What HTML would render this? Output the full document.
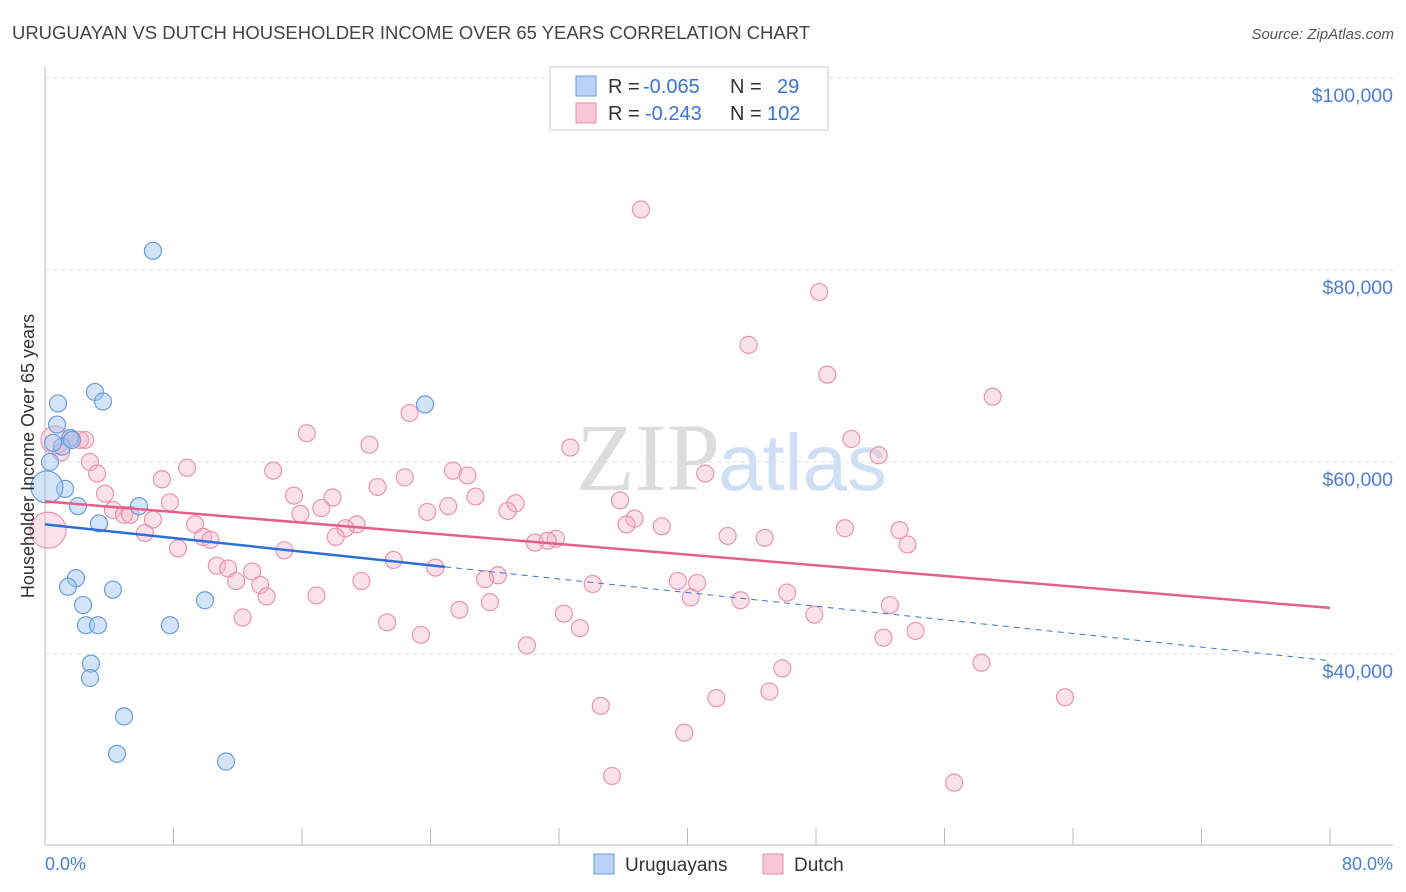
<!DOCTYPE html>
<html><head><meta charset="utf-8"><style>
body{margin:0;background:#fff;font-family:"Liberation Sans",sans-serif;}
svg{display:block}
</style></head><body>
<svg id="c" width="1406" height="892">
<text x="12" y="39" font-size="18" fill="#444" textLength="798" lengthAdjust="spacingAndGlyphs">URUGUAYAN VS DUTCH HOUSEHOLDER INCOME OVER 65 YEARS CORRELATION CHART</text>
<text x="1394" y="39" font-size="15" fill="#555" font-style="italic" text-anchor="end">Source: ZipAtlas.com</text>
<text x="720" y="490" font-size="96" fill="#ddd" text-anchor="end" font-family="Liberation Serif,serif">ZIP</text>
<text x="718" y="490" font-size="80" fill="#cfe0f5">atlas</text>
<g id="grid"></g><g id="marks"></g>
<text transform="translate(34,456) rotate(-90)" font-size="18" fill="#333" text-anchor="middle">Householder Income Over 65 years</text>
<text x="45" y="870" font-size="18" fill="#4a7fd8">0.0%</text>
<text x="1393" y="870" font-size="18" fill="#4a7fd8" text-anchor="end">80.0%</text>
<g>
<rect x="550" y="67" width="278" height="63" fill="#fff" stroke="#ccc"/>
<rect x="576" y="76" width="20" height="20" fill="#b9d2f5" stroke="#6a9de0"/>
<rect x="576" y="103" width="20" height="20" fill="#f8c6d5" stroke="#e890ab"/>
<text x="608" y="93" font-size="20" fill="#333">R = <tspan x="643" fill="#3b73d4">-0.065</tspan><tspan x="730">N = </tspan><tspan x="777" fill="#3b73d4">29</tspan></text>
<text x="608" y="120" font-size="20" fill="#333">R = <tspan x="645" fill="#3b73d4">-0.243</tspan><tspan x="730">N = </tspan><tspan x="767" fill="#3b73d4">102</tspan></text>
</g>
<g>
<rect x="594" y="854" width="20" height="20" fill="#b9d2f5" stroke="#6a9de0"/>
<text x="625" y="871" font-size="19" fill="#333">Uruguayans</text>
<rect x="763" y="854" width="20" height="20" fill="#f8c6d5" stroke="#e890ab"/>
<text x="794" y="871" font-size="19" fill="#333">Dutch</text>
</g>
</svg>
<script>
const yTicks=[40000,60000,80000,100000];
const yTickLabels=["$40,000","$60,000","$80,000","$100,000"];
const xTicks=[0,8,16,24,32,40,48,56,64,72,80];
const blueX=[6.72,0.81,3.11,3.61,23.66,0.75,1.56,1.06,0.31,1.25,0.12,2.05,5.85,3.36,1.93,1.43,4.23,2.37,9.96,2.55,3.30,7.78,2.86,2.80,4.92,4.48,11.27,1.68,0.5];
const blueY=[82.0,66.1,67.3,66.3,66.0,63.9,62.5,61.6,60.0,57.2,57.4,55.4,55.4,53.6,47.9,47.0,46.7,45.1,45.6,43.0,43.0,43.0,39.0,37.5,33.5,29.6,28.8,62.3,62.0];
const blueR=[8.5,8.5,8.5,8.5,8.5,8.5,8.5,8.5,8.5,8.5,16,8.5,8.5,8.5,8.5,8.5,8.5,8.5,8.5,8.5,8.5,8.5,8.5,8.5,8.5,8.5,8.5,8.5,8.5];
const pinkX=[37.1,48.2,43.8,48.7,59.0,22.7,16.3,50.2,20.2,32.7,51.9,2.18,0.62,2.80,3.24,8.84,14.2,25.4,26.3,22.4,41.1,7.28,20.7,15.5,17.9,26.8,3.74,7.78,35.8,29.3,17.2,25.1,28.8,23.8,15.9,4.23,4.92,5.30,6.72,36.7,36.2,38.4,9.34,19.4,49.8,53.2,18.7,6.22,9.84,42.5,44.8,10.3,18.1,31.8,31.3,30.5,53.7,8.28,14.9,21.7,10.7,11.4,12.9,24.3,28.2,27.4,11.9,19.7,39.4,40.6,13.4,34.1,13.8,16.9,40.2,46.2,43.3,27.7,25.8,32.3,52.6,47.9,12.3,21.3,33.3,54.2,23.4,52.2,30.0,45.9,58.3,45.1,41.8,63.5,34.6,39.8,35.3,56.6,0.19,1.6,2.5,1.0];
const pinkY=[86.3,77.7,72.2,69.1,66.8,65.1,63.0,62.4,61.8,61.5,60.7,62.3,62.3,60.0,58.8,59.4,59.1,59.1,58.6,58.4,58.8,58.2,57.4,56.5,56.3,56.4,56.7,55.8,56.0,55.7,55.2,55.4,54.9,54.8,54.6,55.0,54.5,54.5,54.0,54.1,53.5,53.3,53.5,53.5,53.1,52.9,53.1,52.6,52.2,52.3,52.1,51.9,52.2,52.0,51.8,51.6,51.4,51.0,50.8,49.8,49.2,48.9,48.6,49.0,48.2,47.8,47.6,47.6,47.6,47.4,47.2,47.3,46.0,46.1,45.9,46.4,45.6,45.4,44.6,44.2,45.1,44.1,43.8,43.3,42.7,42.4,42.0,41.7,40.9,38.5,39.1,36.1,35.4,35.5,34.6,31.8,27.3,26.6,52.9,62.5,62.3,61.0];
const pinkR=pinkX.map((_,i)=>i===12?14:(i===98?18:8.5));
const pinkTrend=[55.9,44.8];
const blueTrend=[53.5,39.3];
const blueSolidEnd=24.9;
const ns="http://www.w3.org/2000/svg";
const X=p=>45+p*(1330-45)/80;
const Y=v=>654-(v-40000)*192/20000;
function mk(tag,at,parent){const e=document.createElementNS(ns,tag);for(const k in at)e.setAttribute(k,at[k]);document.getElementById(parent).appendChild(e);return e;}
yTicks.forEach((t,i)=>{
 const l=mk('line',{x1:45,x2:1393,y1:Y(t),y2:Y(t),stroke:'#ddd','stroke-dasharray':'4,4'},'grid');
 
 
 const tx=mk('text',{x:1393,y:Y(t)+24,'font-size':19.5,fill:'#4a7fd8','text-anchor':'end'},'grid');
 tx.textContent=yTickLabels[i];
 
 
});
const ax=mk('line',{x1:45,x2:45,y1:67,y2:845,stroke:'#bbb'},'grid');


const bx=mk('line',{x1:45,x2:1393,y1:845,y2:845,stroke:'#bbb'},'grid');


xTicks.forEach(t=>{
 const l=mk('line',{x1:X(t),x2:X(t),y1:828,y2:845,stroke:'#bbb'},'grid');
 
 
});
pinkX.forEach((p,i)=>{
 const c=mk('circle',{cx:X(p),cy:Y(pinkY[i]*1000),r:pinkR[i],fill:'rgba(245,175,198,0.38)',stroke:'#e995b0','stroke-width':1.2},'marks');
 
 
});
blueX.forEach((p,i)=>{
 const c=mk('circle',{cx:X(p),cy:Y(blueY[i]*1000),r:blueR[i],fill:'rgba(160,195,240,0.45)',stroke:'#6a9de0','stroke-width':1.2},'marks');
 
 
});
const bAt=p=>blueTrend[0]+(blueTrend[1]-blueTrend[0])*p/80;
const bd=mk('line',{x1:X(blueSolidEnd),y1:Y(bAt(blueSolidEnd)*1000),x2:X(80),y2:Y(blueTrend[1]*1000),stroke:'#3b73d4','stroke-dasharray':'6,5','stroke-width':1},'marks');


const bs=mk('line',{x1:X(0),y1:Y(blueTrend[0]*1000),x2:X(blueSolidEnd),y2:Y(bAt(blueSolidEnd)*1000),stroke:'#2e6fd6','stroke-width':2.5},'marks');


const pl=mk('line',{x1:X(0),y1:Y(pinkTrend[0]*1000),x2:X(80),y2:Y(pinkTrend[1]*1000),stroke:'#e4608b','stroke-width':2.5},'marks');


</script>
</body></html>
